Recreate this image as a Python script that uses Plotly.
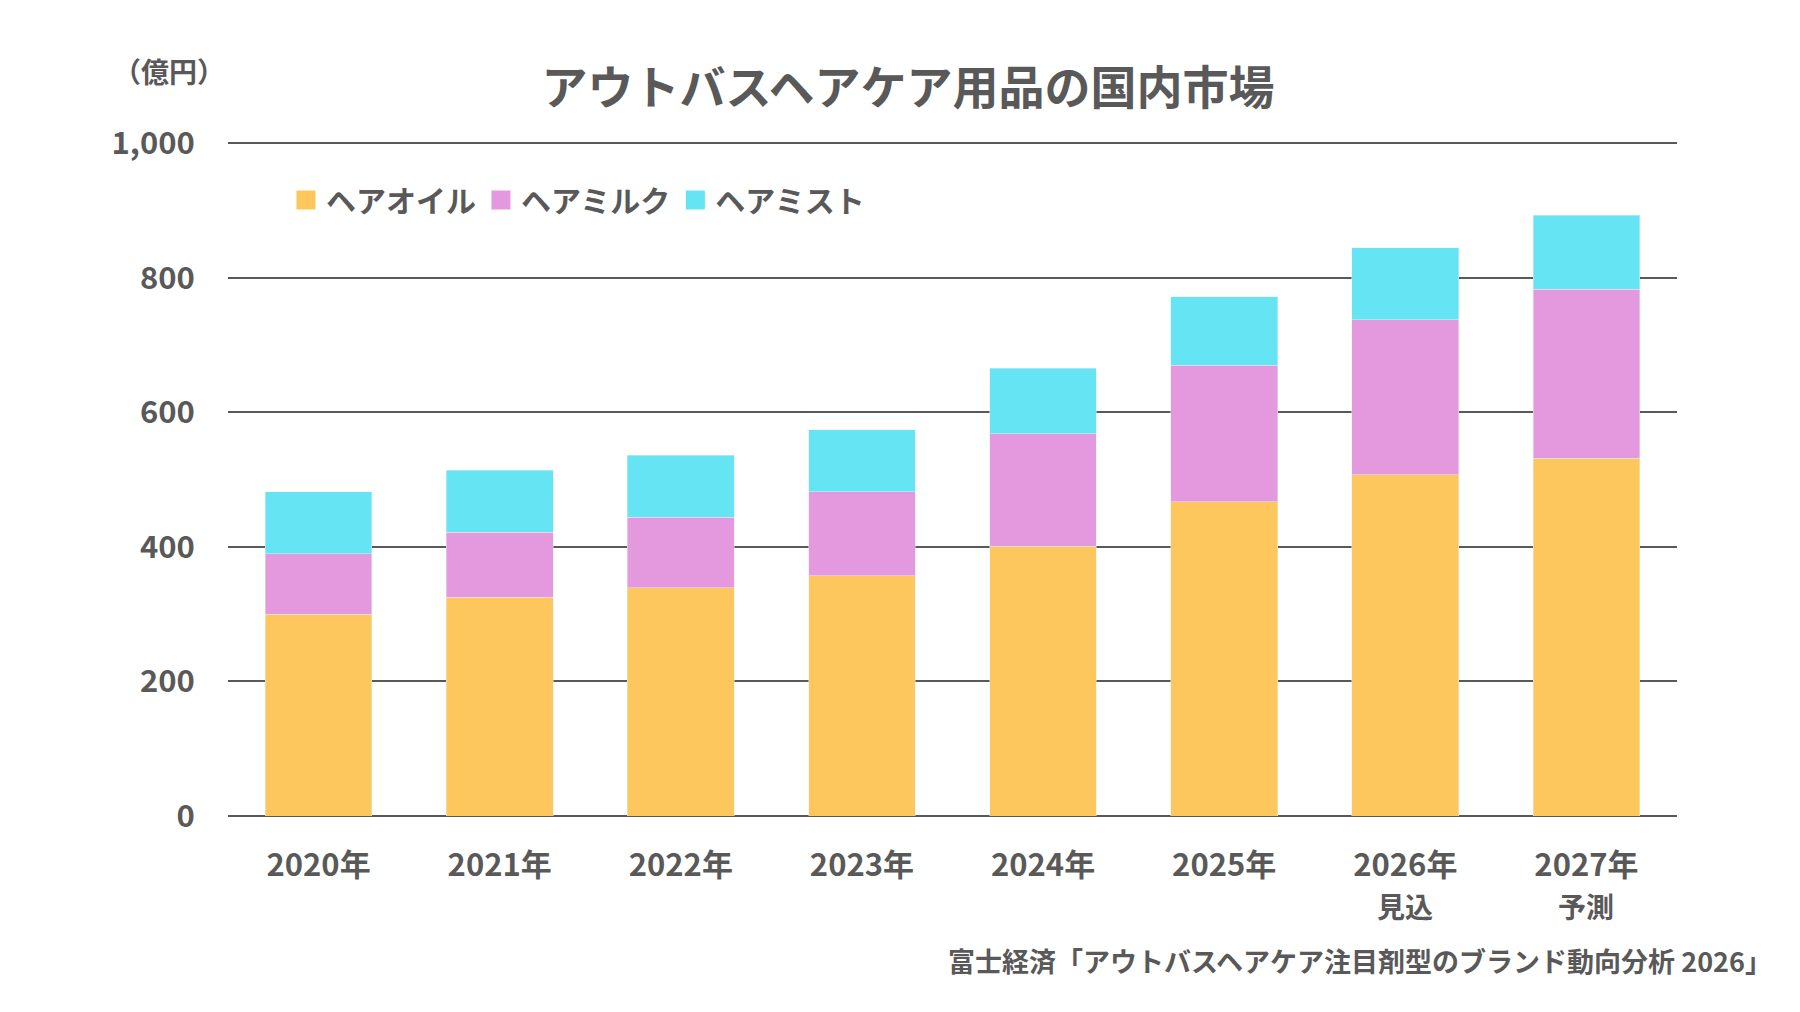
import plotly.graph_objects as go

# Data (億円)
years = ['2020年', '2021年', '2022年', '2023年', '2024年', '2025年', '2026年', '2027年']
year_notes = ['', '', '', '', '', '', '見込', '予測']
series_names = ['ヘアオイル', 'ヘアミルク', 'ヘアミスト']
hair_oil = [300, 325, 339, 357, 401, 467, 507, 532]
hair_milk = [90, 97, 105, 125, 167, 203, 231, 251]
hair_mist = [92, 92, 92, 92, 98, 102, 107, 110]

TEXT = '#595959'
FONT = 'Noto Sans CJK JP'
COLORS = ['#FDC75D', '#E499DF', '#65E5F3']

fig = go.Figure()
for name, vals, col in zip(series_names, [hair_oil, hair_milk, hair_mist], COLORS):
    fig.add_trace(go.Bar(x=years, y=vals, name=name, marker_color=col,
                         legendgroup=name, showlegend=False))
    # legend-only proxy so the swatch is a bigger square
    fig.add_trace(go.Scatter(x=[None], y=[None], mode='markers', name=name,
                             legendgroup=name,
                             marker=dict(symbol='square', size=16, color=col,
                                         line=dict(color=col, width=3))))

# page body has an 8px margin, so the margins are shifted by 8
fig.update_layout(
    barmode='stack',
    bargap=0.41,
    width=1800, height=1012,
    margin=dict(l=220, r=131, t=134, b=204),
    paper_bgcolor='white', plot_bgcolor='white',
    font=dict(family=FONT, color=TEXT, size=28, weight='bold'),
    title=dict(
        text='アウトバスヘアケア用品の国内市場',
        x=900 / 1800, xanchor='center', y=1 - 80 / 1012, yanchor='middle',
        font=dict(size=46, family=FONT, color=TEXT, weight='bold'),
    ),
    legend=dict(
        orientation='h', x=0.04, xanchor='left', y=0.914, yanchor='middle',
        font=dict(size=30, family=FONT, color=TEXT, weight='bold'),
        traceorder='normal', bgcolor='rgba(0,0,0,0)', itemsizing='trace',
    ),
    showlegend=True,
)

fig.update_xaxes(
    showgrid=False, showline=False, zeroline=False,
    ticks='outside', ticklen=22, tickcolor='rgba(0,0,0,0)',
    tickfont=dict(size=31, family=FONT, color=TEXT, weight='bold'),
)
fig.update_yaxes(
    range=[0, 1002], tickvals=[0, 200, 400, 600, 800, 1000], tickformat=',',
    showgrid=True, gridcolor=TEXT, gridwidth=2,
    zeroline=True, zerolinecolor=TEXT, zerolinewidth=2,
    showline=False,
    ticks='outside', ticklen=26, tickcolor='rgba(0,0,0,0)',
    tickfont=dict(size=31, family=FONT, color=TEXT, weight='bold'),
)

# second line under the last two year labels
for yr, note in zip(years, year_notes):
    if note:
        fig.add_annotation(
            text=note, xref='x', yref='paper', x=yr, y=-0.133,
            xanchor='center', yanchor='middle', showarrow=False,
            font=dict(size=28, family=FONT, color=TEXT, weight='bold'),
        )

fig.add_annotation(
    text='（億円）', xref='paper', yref='paper', x=-0.041, y=1.106,
    xanchor='center', yanchor='middle', showarrow=False,
    font=dict(size=28, family=FONT, color=TEXT, weight='bold'),
)
fig.add_annotation(
    text='富士経済「アウトバスヘアケア注目剤型のブランド動向分析 2026」',
    xref='paper', yref='paper', x=1.067, y=-0.214,
    xanchor='right', yanchor='middle', showarrow=False,
    font=dict(size=27, family=FONT, color=TEXT, weight='bold'),
)

fig.write_html('out.html')
